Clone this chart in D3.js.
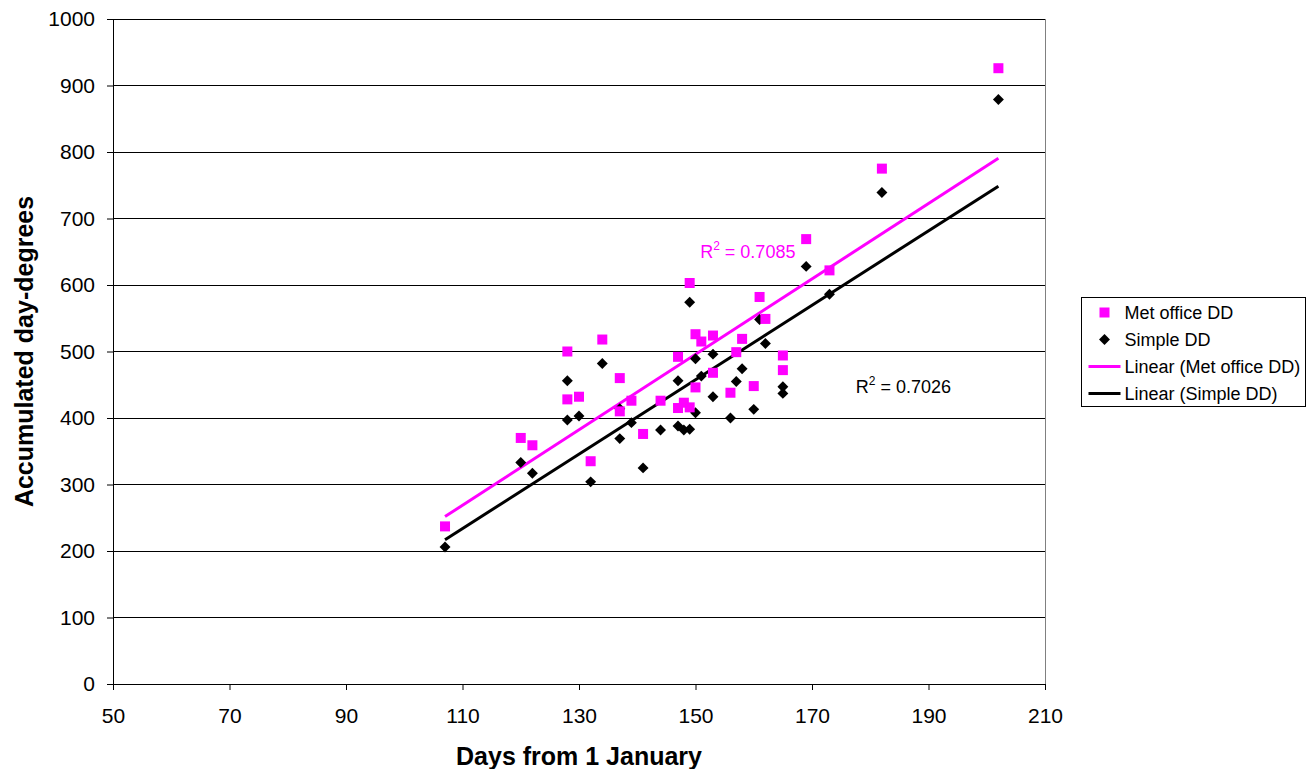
<!DOCTYPE html>
<html lang="en">
<head>
<meta charset="UTF-8">
<title>Accumulated day-degrees</title>
<script src="https://d3js.org/d3.v7.min.js"></script>
<style>
  body { margin: 0; background: #fff; font-family: Arial, "Liberation Sans", sans-serif; }
  .axis text { font-size: 21px; fill: #000; }
  .axis-title { font-size: 25px; font-weight: bold; }
  .legend text { font-size: 18px; }
</style>
</head>
<body>
<div id="chart"></div>
<script>
// Days from 1 January (one entry per site/year)
const days = [107, 120, 122, 128, 128, 130, 132, 134, 137, 137, 139, 141, 144, 147, 147, 148,
  149, 149, 150, 150, 151, 153, 153, 156, 157, 158, 160, 161, 162, 165, 165, 169, 173, 182, 202];
// Met office day-degrees
const metOffice = [237, 370, 359, 500, 428, 432, 335, 518, 460, 410, 426, 376, 426, 492, 415, 423,
  416, 603, 526, 446, 515, 524, 468, 438, 499, 519, 448, 582, 549, 494, 472, 669, 622, 775, 926];
// Simple day-degrees
const simple = [206, 333, 317, 456, 397, 403, 304, 482, 414, 369, 393, 325, 382, 456, 388, 382,
  383, 574, 489, 408, 463, 496, 432, 400, 455, 474, 413, 548, 512, 447, 437, 628, 586, 739, 879];

const xTicks = [50, 70, 90, 110, 130, 150, 170, 190, 210];
const yTicks = [0, 100, 200, 300, 400, 500, 600, 700, 800, 900, 1000];
const rSquared = ["0.7085", "0.7026"];
const seriesNames = ["Met office DD", "Simple DD", "Linear (Met office DD)", "Linear (Simple DD)"];

const svgWidth = 1307, svgHeight = 769;
const margin = { top: 19, right: 262, bottom: 85, left: 113 };
const width = svgWidth - margin.left - margin.right;
const height = svgHeight - margin.top - margin.bottom;

const pink = "#ff00ff";

const svg = d3.select("#chart").append("svg")
  .attr("width", svgWidth)
  .attr("height", svgHeight);

const g = svg.append("g").attr("transform", `translate(${margin.left},${margin.top})`);

const x = d3.scaleLinear().domain([50, 210]).range([0, width]);
const y = d3.scaleLinear().domain([0, 1000]).range([height, 0]);

// plot area border
g.append("rect")
  .attr("x", 0).attr("y", 0)
  .attr("width", width).attr("height", height)
  .attr("fill", "none").attr("stroke", "#808080")
  .attr("shape-rendering", "crispEdges");

// gridlines
g.selectAll(".grid").data(yTicks.slice(1)).enter().append("line")
  .attr("x1", 0).attr("x2", width)
  .attr("y1", d => y(d)).attr("y2", d => y(d))
  .attr("stroke", "#000").attr("shape-rendering", "crispEdges");

// axes
const styleAxis = a => {
  a.select(".domain").attr("stroke", "#000");
  a.selectAll("line").attr("stroke", "#000");
  a.selectAll("text").attr("font-family", "Arial, 'Liberation Sans', sans-serif").attr("font-size", 21);
};

g.append("g").attr("class", "axis")
  .attr("transform", `translate(0,${height})`)
  .call(d3.axisBottom(x).tickValues(xTicks).tickFormat(d3.format("d"))
    .tickSize(6).tickPadding(18).tickSizeOuter(0))
  .call(styleAxis);

g.append("g").attr("class", "axis")
  .call(d3.axisLeft(y).tickValues(yTicks).tickFormat(d3.format("d"))
    .tickSize(6).tickPadding(12).tickSizeOuter(0))
  .call(styleAxis);

// least squares trend lines
function fit(xs, ys) {
  const mx = d3.mean(xs), my = d3.mean(ys);
  let sxy = 0, sxx = 0;
  xs.forEach((v, i) => { sxy += (v - mx) * (ys[i] - my); sxx += (v - mx) * (v - mx); });
  const b = sxy / sxx;
  return { b, a: my - b * mx };
}
const xExtent = d3.extent(days);
[[metOffice, pink], [simple, "#000"]].forEach(([vals, col]) => {
  const f = fit(days, vals);
  g.append("line")
    .attr("x1", x(xExtent[0])).attr("y1", y(f.a + f.b * xExtent[0]))
    .attr("x2", x(xExtent[1])).attr("y2", y(f.a + f.b * xExtent[1]))
    .attr("stroke", col).attr("stroke-width", 3);
});

// markers
const diamond = d3.symbol().type(d3.symbolDiamond2).size(76);
g.selectAll(".simple").data(days).enter().append("path")
  .attr("d", diamond)
  .attr("transform", (d, i) => `translate(${x(d)},${y(simple[i])})`)
  .attr("fill", "#000");

g.selectAll(".met").data(days).enter().append("rect")
  .attr("x", d => x(d) - 5)
  .attr("y", (d, i) => y(metOffice[i]) - 5)
  .attr("width", 10).attr("height", 10)
  .attr("fill", pink);

// R squared labels
const r2 = [
  { text: rSquared[0], col: pink, xv: 150.8, yv: 641 },
  { text: rSquared[1], col: "#000", xv: 177.5, yv: 438 }
];
r2.forEach(r => {
  const t = g.append("text")
    .attr("x", x(r.xv)).attr("y", y(r.yv))
    .attr("font-size", 18).attr("fill", r.col);
  t.append("tspan").text("R");
  t.append("tspan").attr("font-size", 12).attr("dy", -8).text("2");
  t.append("tspan").attr("dy", 8).text(" = " + r.text);
});

// axis titles
svg.append("text").attr("class", "axis-title")
  .attr("x", margin.left + width / 2).attr("y", 765)
  .attr("text-anchor", "middle")
  .text("Days from 1 January");

svg.append("text").attr("class", "axis-title")
  .attr("transform", `translate(33,${margin.top + height / 2}) rotate(-90)`)
  .attr("text-anchor", "middle")
  .text("Accumulated day-degrees");

// legend
const legend = svg.append("g").attr("class", "legend").attr("transform", "translate(1081.5,297.5)");
legend.append("rect")
  .attr("width", 224).attr("height", 109)
  .attr("fill", "#fff").attr("stroke", "#000");
seriesNames.forEach((name, i) => {
  const row = legend.append("g").attr("transform", `translate(0,${15 + i * 27})`);
  if (i === 0) {
    row.append("rect").attr("x", 18).attr("y", -5).attr("width", 10).attr("height", 10).attr("fill", pink);
  } else if (i === 1) {
    row.append("path").attr("d", diamond).attr("transform", "translate(23,0)").attr("fill", "#000");
  } else {
    row.append("line").attr("x1", 7).attr("x2", 39).attr("y1", 0).attr("y2", 0)
      .attr("stroke", i === 2 ? pink : "#000").attr("stroke-width", 3);
  }
  row.append("text").attr("x", 43).attr("y", 6).text(name);
});
</script>
</body>
</html>
